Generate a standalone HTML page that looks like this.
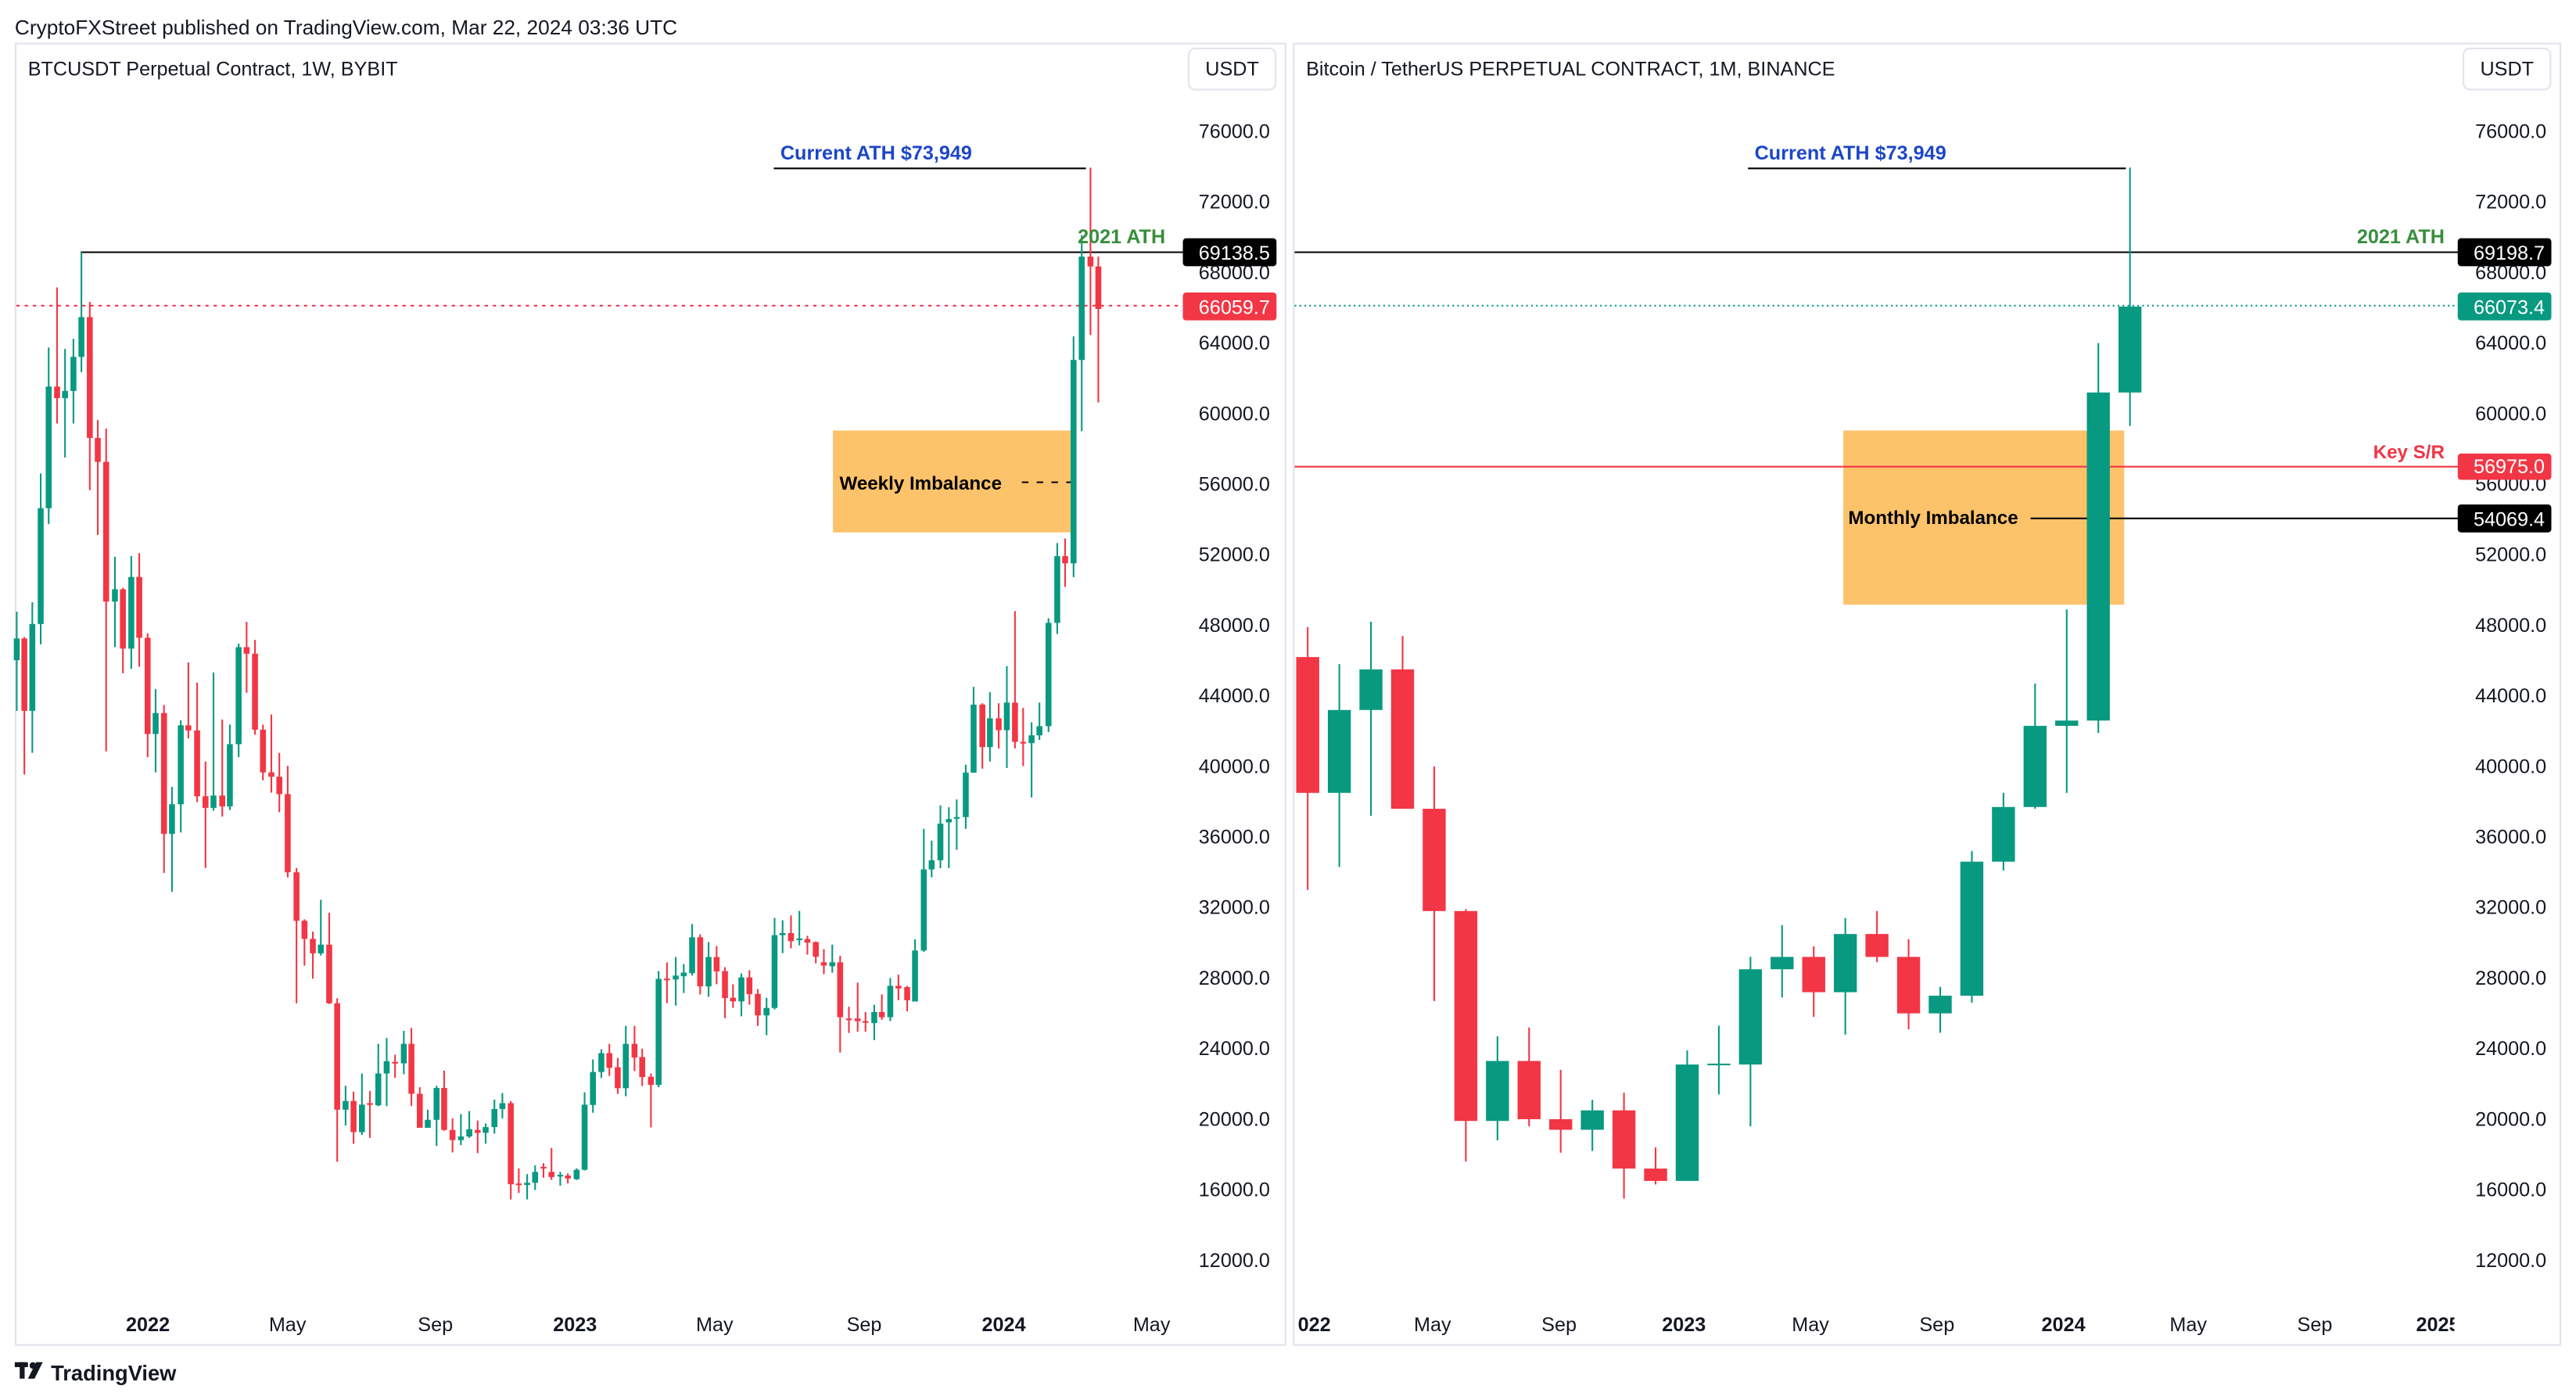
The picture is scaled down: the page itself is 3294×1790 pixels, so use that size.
<!DOCTYPE html>
<html><head><meta charset="utf-8"><style>
html,body{margin:0;padding:0;background:#fff;}
svg{display:block;}
text{font-family:"Liberation Sans",Arial,sans-serif;}
</style></head><body>
<svg id="s" width="3294" height="1790" viewBox="0 0 1568 852" preserveAspectRatio="none" xmlns="http://www.w3.org/2000/svg">
<rect width="1568" height="852" fill="#fff"/>
<text x="9" y="21" font-size="12.5" fill="#131722">CryptoFXStreet published on TradingView.com, Mar 22, 2024 03:36 UTC</text>
<rect x="9.5" y="26.5" width="773" height="792" fill="none" stroke="#e0e3eb" stroke-width="1"/>
<rect x="787.5" y="26.5" width="771" height="792" fill="none" stroke="#e0e3eb" stroke-width="1"/>
<text x="17" y="46" font-size="12" fill="#131722">BTCUSDT Perpetual Contract, 1W, BYBIT</text>
<text x="795" y="46" font-size="12" fill="#131722">Bitcoin / TetherUS PERPETUAL CONTRACT, 1M, BINANCE</text>
<rect x="723.5" y="29.5" width="53" height="25" rx="4" fill="#fff" stroke="#e0e3eb"/>
<text x="750" y="46" font-size="12" fill="#131722" text-anchor="middle">USDT</text>
<rect x="1499.5" y="29.5" width="53" height="25" rx="4" fill="#fff" stroke="#e0e3eb"/>
<text x="1526" y="46" font-size="12" fill="#131722" text-anchor="middle">USDT</text>
<g id="axes" font-size="12" fill="#131722" text-anchor="end"></g>
<rect x="507" y="262" width="148" height="62" fill="#fdc36b"/>
<line x1="10" y1="186" x2="720" y2="186" stroke="#f23645" stroke-width="1" stroke-dasharray="2,3"/>
<line x1="49" y1="153.5" x2="720" y2="153.5" stroke="#000" stroke-width="1"/>
<line x1="471" y1="102.5" x2="661" y2="102.5" stroke="#000" stroke-width="1"/>
<line x1="622" y1="293.5" x2="657" y2="293.5" stroke="#000" stroke-width="1" stroke-dasharray="4,5"/>
<rect x="1122" y="262" width="171" height="106" fill="#fdc36b"/>
<line x1="788" y1="186" x2="1497" y2="186" stroke="#089981" stroke-width="1" stroke-dasharray="1,2"/>
<line x1="788" y1="153.5" x2="1497" y2="153.5" stroke="#000" stroke-width="1"/>
<line x1="788" y1="284" x2="1497" y2="284" stroke="#f23645" stroke-width="1"/>
<line x1="1236" y1="315.5" x2="1497" y2="315.5" stroke="#000" stroke-width="1"/>
<line x1="1064" y1="102.5" x2="1294" y2="102.5" stroke="#000" stroke-width="1"/>
<g id="candles"></g>
<text x="475" y="97" font-size="12" font-weight="bold" fill="#1c46c8">Current ATH $73,949</text>
<text x="656" y="148" font-size="12" font-weight="bold" fill="#388e3c">2021 ATH</text>
<text x="511" y="298" font-size="11.5" font-weight="bold" fill="#000">Weekly Imbalance</text>
<text x="1068" y="97" font-size="12" font-weight="bold" fill="#1c46c8">Current ATH $73,949</text>
<text x="1488" y="148" font-size="12" font-weight="bold" fill="#388e3c" text-anchor="end">2021 ATH</text>
<text x="1488" y="279" font-size="11.5" font-weight="bold" fill="#f23645" text-anchor="end">Key S/R</text>
<text x="1125" y="319" font-size="11.5" font-weight="bold" fill="#000">Monthly Imbalance</text>
<rect x="720" y="145" width="57" height="17" rx="2" fill="#000"/><text x="773" y="158" font-size="12" fill="#fff" text-anchor="end">69138.5</text>
<rect x="720" y="178" width="57" height="17" rx="2" fill="#f23645"/><text x="773" y="191" font-size="12" fill="#fff" text-anchor="end">66059.7</text>
<rect x="1496" y="145" width="57" height="17" rx="2" fill="#000"/><text x="1549" y="158" font-size="12" fill="#fff" text-anchor="end">69198.7</text>
<rect x="1496" y="178" width="57" height="17" rx="2" fill="#089981"/><text x="1549" y="191" font-size="12" fill="#fff" text-anchor="end">66073.4</text>
<rect x="1496" y="276" width="57" height="16" rx="2" fill="#f23645"/><text x="1549" y="288" font-size="12" fill="#fff" text-anchor="end">56975.0</text>
<rect x="1496" y="307" width="57" height="17" rx="2" fill="#000"/><text x="1549" y="320" font-size="12" fill="#fff" text-anchor="end">54069.4</text>
<g font-size="12" fill="#131722" text-anchor="middle">
<text x="90" y="810" font-weight="bold">2022</text><text x="175" y="810">May</text><text x="265" y="810">Sep</text>
<text x="350" y="810" font-weight="bold">2023</text><text x="435" y="810">May</text><text x="526" y="810">Sep</text>
<text x="611" y="810" font-weight="bold">2024</text><text x="701" y="810">May</text>
<text x="800" y="810" font-weight="bold">022</text><text x="872" y="810">May</text><text x="949" y="810">Sep</text>
<text x="1025" y="810" font-weight="bold">2023</text><text x="1102" y="810">May</text><text x="1179" y="810">Sep</text>
<text x="1256" y="810" font-weight="bold">2024</text><text x="1332" y="810">May</text><text x="1409" y="810">Sep</text>
<text x="1484" y="810" font-weight="bold">2025</text>
</g>
<rect x="1494" y="796" width="22" height="20" fill="#fff"/>
<g fill="#131722"><rect x="9" y="829" width="8" height="3"/><rect x="12" y="829" width="3" height="10"/><circle cx="20" cy="831" r="2"/><polygon points="22,829 26,829 21,839 17,839"/></g>
<text x="31" y="840" font-size="13" fill="#131722" font-weight="bold">TradingView</text>
</svg>
<script>
var NS="http://www.w3.org/2000/svg",g=document.getElementById('candles'),ax=document.getElementById('axes');
function el(t,a,p){var e=document.createElementNS(NS,t);for(var k in a)e.setAttribute(k,a[k]);(p||g).appendChild(e);return e;}
var G="#089981",R="#f23645";
function cand(x,o,c,h,l,w){var col=c<o?G:R;el('rect',{x:x-0.5,y:h,width:1,height:Math.max(l-h,0.5),fill:col});var t=Math.min(o,c),b=Math.max(o,c);el('rect',{x:x-w/2,y:t,width:w,height:Math.max(b-t,1),fill:col});}
function Y(p){return 80+(76000-p)*0.010734;}
for(var p=76000;p>=12000;p-=4000){var y=Y(p)+4;
 var t=el('text',{x:773,y:y},ax);t.textContent=p.toFixed(1);
 var t2=el('text',{x:1550,y:y},ax);t2.textContent=p.toFixed(1);
}
var z1=[[42,750,720,683,820],[61,720,820,718,908],[81,820,700,670,878],[102,700,540,492,728],[122,540,372,318,562],[143,372,388,235,423],[163,388,378,320,470],[184,378,331,306,423],[204,331,276,186,352],[225,276,443,255,515],[245,443,476,418,577],[266,476,669,430,876],[288,669,652,607,732],[308,652,734,650,768],[329,734,635,606,762],[349,635,719,602,759],[370,719,852,713,884],[390,852,823,790,905],[411,823,990,812,1044],[431,990,949,925,1070],[453,949,840,833,988],[472,840,847,753,858],[494,847,938,781,946],[515,938,954,890,1037],[535,954,937,767,958],[557,937,952,832,966],[576,952,866,839,957],[598,866,732,727,884],[618,732,741,697,795],[639,741,846,722,853],[659,846,905,839,916],[680,905,911,825,933],[700,911,935,878,960],[721,935,1043,896,1050],[743,1043,1110,1037,1224],[763,1110,1135,1108,1172],[784,1135,1155,1125,1190],[804,1155,1143,1081,1158],[825,1143,1224,1099,1225],[845,1224,1371,1217,1443],[866,1371,1359,1338,1393],[886,1359,1402,1346,1418],[907,1402,1364,1321,1406],[927,1362,1364,1345,1410],[948,1365,1321,1280,1366],[969,1321,1304,1272,1366],[990,1305,1307,1295,1327],[1012,1307,1280,1262,1322],[1031,1280,1349,1258,1366],[1052,1349,1396,1340,1396],[1072,1396,1385,1371,1396],[1094,1385,1341,1338,1421],[1113,1341,1399,1317,1400],[1134,1399,1413,1383,1430],[1155,1413,1408,1377,1420],[1176,1408,1398,1373,1410],[1197,1399,1403,1386,1431],[1217,1403,1395,1390,1418],[1239,1395,1370,1357,1404],[1259,1370,1362,1348,1383],[1280,1362,1474,1359,1495],[1300,1473,1475,1452,1486],[1321,1475,1472,1460,1495],[1341,1472,1457,1448,1482],[1362,1450,1452,1445,1465],[1382,1457,1464,1424,1468],[1404,1463,1461,1457,1476],[1423,1462,1466,1459,1473],[1445,1467,1454,1452,1468],[1465,1454,1364,1347,1455]];
z1.forEach(function(d){var f=function(v){return 71.4+v*0.4405};cand(d[0]*0.2429,f(d[1]),f(d[2]),f(d[3]),f(d[4]),3.6);});
var z2=[[18,1077,967,925,1103],[42,967,904,891,987],[65,904,953,873,980],[89,951,1021,920,1040],[112,1021,873,813,1048],[137,873,919,813,964],[159,917,984,889,1014],[184,983,1010,972,1152],[206,1010,656,630,1018],[230,655,657,601,737],[255,658,645,583,745],[278,647,635,606,703],[302,637,517,473,645],[325,517,681,507,708],[349,681,583,533,716],[372,583,631,546,674],[396,630,720,617,787],[419,719,731,674,753],[443,731,651,638,781],[466,651,707,627,742],[490,706,778,690,813],[515,778,753,719,844],[538,753,510,452,758],[561,510,503,460,570],[585,503,530,444,554],[609,523,521,429,544],[632,523,535,512,575],[656,533,582,531,604]];
z2.forEach(function(d){var f=function(v){return 476.2+v*0.1822};cand(357.1+d[0]*0.2126,f(d[1]),f(d[2]),f(d[3]),f(d[4]),3.6);});
var z3=[[8,1292,1297,1272,1310],[36,1298,1292,1265,1308],[62,1292,1376,1282,1430],[91,1378,1380,1360,1400],[120,1378,1382,1323,1398],[146,1382,1384,1368,1398],[175,1385,1368,1357,1411],[200,1368,1376,1341,1380],[228,1376,1328,1316,1382],[255,1328,1332,1311,1350],[284,1330,1350,1328,1367],[310,1352,1274,1257,1352],[339,1274,1150,1088,1276],[365,1150,1136,1106,1162],[394,1136,1080,1052,1148],[422,1078,1073,1055,1148],[448,1071,1070,1043,1120],[478,1070,1002,990,1088],[504,1002,898,871,1002],[533,898,963,896,996],[558,963,919,879,985],[587,919,937,896,965],[614,937,895,839,995],[641,895,955,755,965],[668,955,957,903,992],[696,957,945,925,1040],[722,945,931,895,952],[752,931,773,766,940],[781,773,671,651,790],[807,671,682,644,718],[835,682,371,335,703],[862,371,213,180,480],[891,213,228,77,333],[917,228,293,213,436]];
z3.forEach(function(d){var f=function(v){return 71.4+v*0.398};cand(500+d[0]*0.1838,f(d[1]),f(d[2]),f(d[3]),f(d[4]),3.6);});
var m=[[46.2,38.5,47.9,33],[38.5,43.2,45.8,34.3],[43.2,45.5,48.2,37.2],[45.5,37.6,47.4,37.6],[37.6,31.8,40,26.7],[31.8,19.9,31.9,17.6],[19.9,23.3,24.7,18.8],[23.3,20.0,25.2,19.6],[20.0,19.4,22.8,18.1],[19.4,20.5,21.1,18.2],[20.5,17.2,21.5,15.5],[17.2,16.5,18.4,16.3],[16.5,23.1,23.9,16.5],[23.1,23.15,25.3,21.4],[23.1,28.5,29.2,19.6],[28.5,29.2,31,26.9],[29.2,27.2,29.8,25.8],[27.2,30.5,31.4,24.8],[30.5,29.2,31.8,28.9],[29.2,26.0,30.2,25.1],[26.0,27.0,27.5,24.9],[27.0,34.6,35.2,26.6],[34.6,37.7,38.5,34.1],[37.7,42.3,44.7,37.6],[42.3,42.6,48.9,38.5],[42.6,61.2,64,41.9],[61.2,66.07,73.949,59.3]];
m.forEach(function(d,i){cand(796+i*19.25,Y(d[0]*1000),Y(d[1]*1000),Y(d[2]*1000),Y(d[3]*1000),14);});
</script>
</body></html>
